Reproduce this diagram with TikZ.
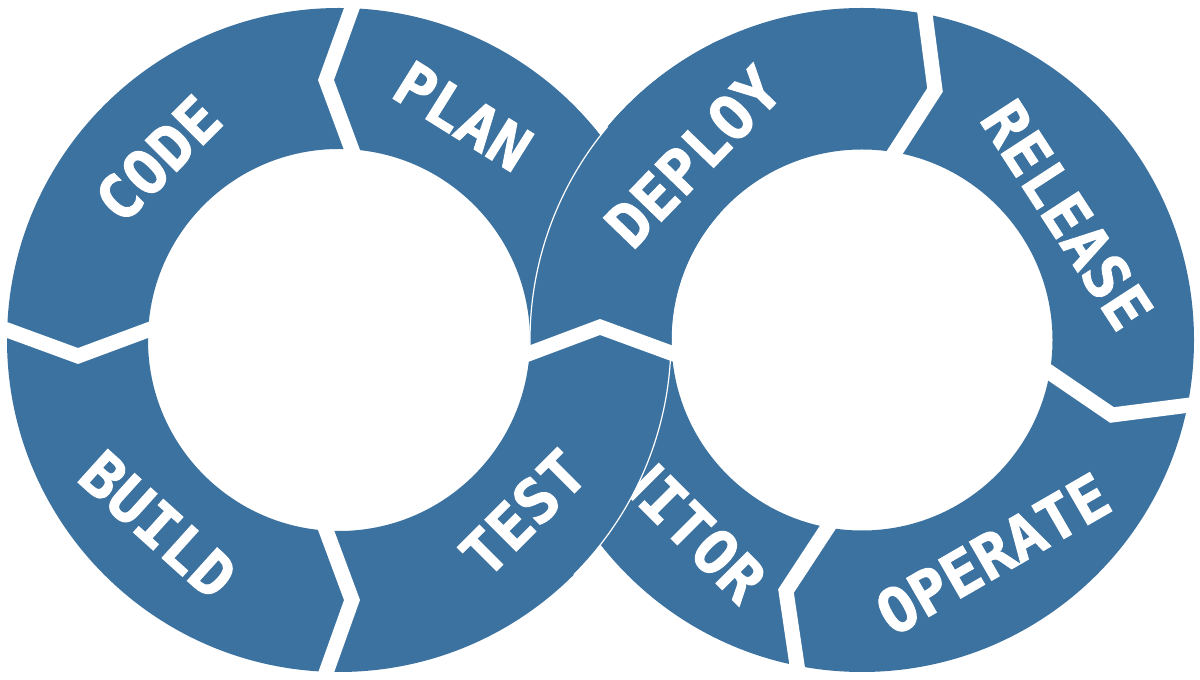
\documentclass[tikz,border=0pt]{standalone}
\usepackage{fontspec}
\newfontfamily\labfont{DejaVu Sans Mono}[BoldFeatures={FakeBold=1.6}]
\usetikzlibrary{calc}
\definecolor{ringblue}{RGB}{60,114,160}
\newcommand\sepline[3]{\draw[sep] ($(#2)!1.25!(#1)$) -- (#2) -- ($(#2)!1.25!(#3)$);}
\begin{document}
\begin{tikzpicture}[x=1pt,y=1pt,
  ringfill/.style={fill=ringblue, even odd rule},
  sep/.style={draw=white, line width=15pt, line join=miter, miter limit=10},
  edge/.style={draw=white, line width=1.2pt},
  lbl/.style={text=white, font=\labfont\bfseries\fontsize{61}{61}\selectfont, inner sep=0pt}]
\useasboundingbox (0,0) rectangle (1200,680);
\coordinate (L) at (339,340);
\coordinate (R) at (862,340);
% separator points (left ring)
\coordinate (lt1) at (352,672); \coordinate (lt2) at (326,600); \coordinate (lt3) at (352,530);
\coordinate (ll1) at (7,350);   \coordinate (ll2) at (78,324);  \coordinate (ll3) at (148,350);
\coordinate (lb1) at (326,150); \coordinate (lb2) at (352,80);  \coordinate (lb3) at (327,10);
% shared
\coordinate (sh1) at (528,326); \coordinate (sh2) at (600,353); \coordinate (sh3) at (671,327);
% right ring
\coordinate (rt1) at (925,666); \coordinate (rt2) at (935,590); \coordinate (rt3) at (895,528);
\coordinate (rr1) at (1049,308);\coordinate (rr2) at (1112,265);\coordinate (rr3) at (1190,275);
\coordinate (rb1) at (828,153); \coordinate (rb2) at (786,89);  \coordinate (rb3) at (797,15);

% 1. right ring
\path[ringfill] (R) circle[radius=332pt] (R) circle[radius=190.5pt];
\sepline{rt1}{rt2}{rt3}
\sepline{rr1}{rr2}{rr3}
\sepline{rb1}{rb2}{rb3}
\node[lbl, rotate=-57] (release) at (1067,465) {RELEASE};
\node[lbl, rotate=30] (operate) at (993,126) {OPERATE};
\node[lbl, rotate=-45] (monitor) at (664,180) {MONITOR};

% 2. left ring
\path[ringfill] (L) circle[radius=332pt] (L) circle[radius=191pt];
\sepline{lt1}{lt2}{lt3}
\sepline{ll1}{ll2}{ll3}
\sepline{lb1}{lb2}{lb3}
\node[lbl, rotate=45] (code) at ($(L)+(135:256pt)$) {CODE};
\node[lbl, rotate=-32] (plan) at (463,564) {PLAN};
\node[lbl, rotate=-42] (build) at (158,155) {BUILD};
\node[lbl, rotate=45] (test) at (523,167) {TEST};

% 3. right ring on top in the upper crossing
\begin{scope}
  \clip (480,700) -- (720,700) -- (720,327) -- (sh3) -- (sh2) -- (sh1) -- (480,326) -- cycle;
  \path[ringfill] (R) circle[radius=332pt] (R) circle[radius=190.5pt];
  \draw[edge] ($(R)+(140:332pt)$) arc[start angle=140, end angle=182, radius=332pt];
\end{scope}
\node[lbl, rotate=46] (deploy) at (693,523) {DEPLOY};

% 4. left ring edge over the right ring (lower crossing)
\draw[edge] ($(L)+(-2:332pt)$) arc[start angle=-2, end angle=-45, radius=332pt];

% 5. shared separator
\sepline{sh1}{sh2}{sh3}
\end{tikzpicture}
\end{document}
